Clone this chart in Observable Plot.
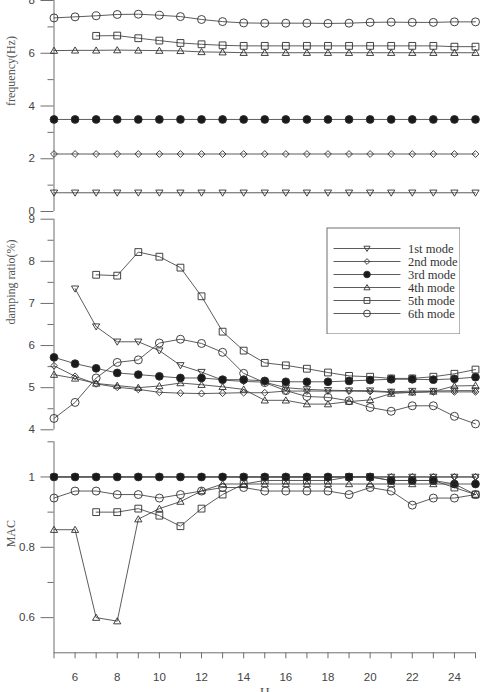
<!DOCTYPE html>
<html>
<head>
<meta charset="utf-8">
<script src="https://cdn.jsdelivr.net/npm/d3@7"></script>
<script src="https://cdn.jsdelivr.net/npm/@observablehq/plot@0.6"></script>
<style>
  body { margin: 0; background: #fff; }
  #wrap { position: relative; width: 484px; height: 692px; overflow: hidden; background: #fff; }
  .panel { position: absolute; left: 0; }
  .panel svg { background: none !important; }
</style>
</head>
<body>
<div id="wrap"></div>
<script>
// Position H along the structure (x axis)
const H = [5, 6, 7, 8, 9, 10, 11, 12, 13, 14, 15, 16, 17, 18, 19, 20, 21, 22, 23, 24, 25];
const modes = ["1st mode", "2nd mode", "3rd mode", "4th mode", "5th mode", "6th mode"];

// Identified frequencies (Hz)
const freq1 = [0.71, 0.71, 0.71, 0.71, 0.71, 0.71, 0.71, 0.71, 0.71, 0.71, 0.71, 0.71, 0.71, 0.71, 0.71, 0.71, 0.71, 0.71, 0.71, 0.71, 0.71];
const freq2 = [2.18, 2.18, 2.18, 2.18, 2.18, 2.18, 2.18, 2.18, 2.18, 2.18, 2.18, 2.18, 2.18, 2.18, 2.18, 2.18, 2.18, 2.18, 2.18, 2.18, 2.18];
const freq3 = [3.49, 3.49, 3.49, 3.49, 3.49, 3.49, 3.49, 3.49, 3.49, 3.49, 3.49, 3.49, 3.49, 3.49, 3.49, 3.49, 3.49, 3.49, 3.49, 3.49, 3.49];
const freq4 = [6.10, 6.11, 6.11, 6.12, 6.11, 6.10, 6.09, 6.05, 6.04, 6.02, 6.02, 6.02, 6.02, 6.02, 6.02, 6.02, 6.02, 6.02, 6.02, 6.02, 6.02];
const freq5 = [null, null, 6.66, 6.67, 6.57, 6.48, 6.39, 6.34, 6.30, 6.28, 6.28, 6.28, 6.28, 6.28, 6.28, 6.28, 6.28, 6.28, 6.28, 6.25, 6.25];
const freq6 = [7.34, 7.38, 7.42, 7.47, 7.48, 7.44, 7.39, 7.28, 7.20, 7.15, 7.14, 7.14, 7.14, 7.13, 7.14, 7.17, 7.18, 7.17, 7.17, 7.19, 7.19];

// Damping ratios (%)
const damp1 = [null, 7.35, 6.45, 6.09, 6.09, 5.88, 5.53, 5.37, 5.18, 5.15, 5.13, 5.00, 4.96, 4.94, 4.93, 4.93, 4.90, 4.92, 4.92, 4.93, 4.93];
const damp2 = [5.52, 5.27, 5.09, 5.01, 4.96, 4.89, 4.87, 4.86, 4.87, 4.88, 4.88, 4.92, 4.92, 4.92, 4.92, 4.91, 4.89, 4.89, 4.90, 4.90, 4.90];
const damp3 = [5.72, 5.57, 5.46, 5.35, 5.31, 5.27, 5.23, 5.23, 5.19, 5.19, 5.16, 5.14, 5.14, 5.14, 5.16, 5.18, 5.20, 5.20, 5.19, 5.21, 5.25];
const damp4 = [5.31, 5.22, 5.10, 5.05, 5.00, 5.04, 5.11, 5.07, 5.02, 4.96, 4.70, 4.70, 4.61, 4.61, 4.67, 4.71, 4.86, 4.89, 4.91, 5.04, 5.05];
const damp5 = [null, null, 7.68, 7.66, 8.22, 8.11, 7.85, 7.17, 6.33, 5.88, 5.59, 5.53, 5.45, 5.36, 5.28, 5.26, 5.22, 5.22, 5.26, 5.33, 5.43];
const damp6 = [4.27, 4.65, 5.23, 5.60, 5.66, 6.06, 6.15, 6.05, 5.84, 5.34, 5.12, 4.93, 4.79, 4.77, 4.69, 4.53, 4.44, 4.57, 4.57, 4.32, 4.14];

// Modal assurance criterion
const mac1 = [1.00, 1.00, 1.00, 1.00, 1.00, 1.00, 1.00, 1.00, 1.00, 1.00, 1.00, 1.00, 1.00, 1.00, 1.00, 1.00, 1.00, 1.00, 1.00, 1.00, 1.00];
const mac2 = [1.00, 1.00, 1.00, 1.00, 1.00, 1.00, 1.00, 1.00, 1.00, 1.00, 1.00, 1.00, 1.00, 1.00, 1.00, 1.00, 1.00, 1.00, 1.00, 1.00, 1.00];
const mac3 = [1.00, 1.00, 1.00, 1.00, 1.00, 1.00, 1.00, 1.00, 1.00, 1.00, 1.00, 1.00, 1.00, 1.00, 1.00, 1.00, 0.99, 0.99, 0.99, 0.98, 0.98];
const mac4 = [0.85, 0.85, 0.60, 0.59, 0.88, 0.91, 0.93, 0.96, 0.98, 0.98, 0.98, 0.98, 0.98, 0.98, 0.98, 0.98, 0.98, 0.98, 0.98, 0.98, 0.95];
const mac5 = [null, null, 0.90, 0.90, 0.91, 0.89, 0.86, 0.91, 0.95, 0.98, 0.99, 0.99, 0.99, 0.99, 1.00, 1.00, 0.99, 0.99, 0.99, 0.97, 0.95];
const mac6 = [0.94, 0.96, 0.96, 0.95, 0.95, 0.94, 0.95, 0.96, 0.97, 0.97, 0.96, 0.96, 0.96, 0.96, 0.95, 0.97, 0.96, 0.92, 0.94, 0.94, 0.95];

// Tick values
const freqMajor = [0, 2, 4, 6, 8], freqMinor = [1, 3, 5, 7];
const dampMajor = [4, 5, 6, 7, 8, 9], dampMinor = [4.5, 5.5, 6.5, 7.5, 8.5];
const macMajor = [0.6, 0.8, 1], macMinor = [0.7, 0.9, 1.1];
const hMajor = [6, 8, 10, 12, 14, 16, 18, 20, 22, 24], hMinor = [5, 7, 9, 11, 13, 15, 17, 19, 21, 23, 25];

// Long-format tables built from the series
function table(series) {
  const rows = [];
  series.forEach((vals, i) => vals.forEach((v, j) => { if (v != null) rows.push({h: H[j], v, mode: modes[i]}); }));
  return rows;
}
const freqRows = table([freq1, freq2, freq3, freq4, freq5, freq6]);
const dampRows = table([damp1, damp2, damp3, damp4, damp5, damp6]);
const macRows = table([mac1, mac2, mac3, mac4, mac5, mac6]);

// Marker shapes
function poly(pts) {
  return {draw(ctx, size) {
    const r = Math.sqrt(size / Math.PI);
    ctx.moveTo(pts[0][0] * r, pts[0][1] * r);
    for (let k = 1; k < pts.length; ++k) ctx.lineTo(pts[k][0] * r, pts[k][1] * r);
    ctx.closePath();
  }};
}
const triDown = poly([[0, 0.95], [1, -0.75], [-1, -0.75]]);
const triUp = poly([[0, -0.95], [1, 0.75], [-1, 0.75]]);
const diamond = poly([[0, -1], [1, 0], [0, 1], [-1, 0]]);
const square = poly([[-1, -1], [1, -1], [1, 1], [-1, 1]]);
const symbols = [triDown, diamond, "circle", triUp, square, "circle"];
const radii = [3.6, 3.4, 3.9, 3.6, 3.4, 4.0];
const fills = ["none", "none", "#1a1a1a", "none", "none", "none"];

const LINE = "#4a4a4a", MARK = "#2e2e2e", AXIS = "#6e6e6e", TEXT = "#444";
const sans = "'Liberation Sans', Arial, sans-serif";
const serif = "'Liberation Serif', 'Times New Roman', serif";

function seriesMarks(rows) {
  return [
    Plot.line(rows, {x: "h", y: "v", z: "mode", stroke: LINE, strokeWidth: 0.9}),
    ...modes.map((m, i) => Plot.dot(rows.filter(d => d.mode === m), {
      x: "h", y: "v", symbol: symbols[i], r: radii[i],
      fill: fills[i], stroke: MARK, strokeWidth: 0.9
    }))
  ];
}

function yAxisMarks(major, minor, fmt) {
  return [
    Plot.ruleX([5], {stroke: AXIS, strokeWidth: 1}),
    Plot.axisY(major, {tickSize: 13, tickPadding: 6, stroke: AXIS, fill: TEXT, label: null, tickFormat: fmt}),
    Plot.axisY(minor, {tickSize: 6, stroke: AXIS, label: null, tickFormat: () => ""})
  ];
}

function yTitle(text) {
  return Plot.text([text], {frameAnchor: "left", rotate: -90, dx: -43, fontFamily: serif, fontSize: 12, fill: "#555"});
}

function panel(top, node) {
  const d = document.createElement("div");
  d.className = "panel";
  d.style.top = top + "px";
  d.appendChild(node);
  document.getElementById("wrap").appendChild(d);
}

const common = {
  width: 484, marginLeft: 53.5, marginRight: 9,
  style: {background: "none", fontFamily: sans, fontSize: "11.5px", color: TEXT}
};

// Frequency panel
panel(0, Plot.plot({
  ...common, height: 221, marginTop: 0, marginBottom: 10,
  x: {domain: [5, 25], axis: null},
  y: {domain: [0, 8]},
  marks: [
    ...yAxisMarks(freqMajor, freqMinor, d => `${d}`),
    yTitle("frequency(Hz)"),
    ...seriesMarks(freqRows)
  ]
}));

// Damping panel
panel(210, Plot.plot({
  ...common, height: 232, marginTop: 8.7, marginBottom: 12.7,
  x: {domain: [5, 25], axis: null},
  y: {domain: [4, 9]},
  marks: [
    ...yAxisMarks(dampMajor, dampMinor, d => `${d}`),
    yTitle("damping ratio(%)"),
    ...seriesMarks(dampRows)
  ]
}));

// MAC panel with the shared H axis
panel(432, Plot.plot({
  ...common, height: 260, marginTop: 9.3, marginBottom: 39.7,
  x: {domain: [5, 25]},
  y: {domain: [0.5, 1.1]},
  marks: [
    ...yAxisMarks(macMajor, macMinor, d => `${d}`),
    Plot.ruleY([0.5], {stroke: AXIS, strokeWidth: 1}),
    Plot.axisX(hMajor, {tickSize: 6, tickPadding: 14, stroke: AXIS, fill: TEXT, label: null, tickFormat: d => `${d}`}),
    Plot.axisX(hMinor, {tickSize: 6, stroke: AXIS, label: null, tickFormat: () => ""}),
    yTitle("MAC"),
    Plot.text(["H"], {frameAnchor: "bottom", dy: 35, lineAnchor: "top", fontFamily: serif, fontSize: 14, fill: "#555"}),
    ...seriesMarks(macRows)
  ]
}));

// Legend box for the six modes
const legend = Plot.plot({
  width: 134, height: 107, margin: 0.5,
  style: {background: "#fff", fontFamily: serif, fontSize: "12.5px", color: "#333"},
  x: {domain: [0, 133], axis: null},
  y: {type: "point", domain: modes, range: [11.8, 95.2], axis: null},
  marks: [
    Plot.frame({stroke: AXIS, strokeWidth: 1}),
    Plot.ruleY(modes, {y: d => d, x1: 7, x2: 74, stroke: LINE, strokeWidth: 0.9}),
    ...modes.map((m, i) => Plot.dot([m], {
      x: 40, y: d => d, symbol: symbols[i], r: radii[i] * 0.85,
      fill: fills[i], stroke: MARK, strokeWidth: 0.9
    })),
    Plot.text(modes, {x: 81, y: d => d, text: d => d, textAnchor: "start", fill: "#333"})
  ]
});
const lg = document.createElement("div");
lg.style.cssText = "position:absolute;left:326px;top:227px;";
lg.appendChild(legend);
document.getElementById("wrap").appendChild(lg);
</script>
</body>
</html>
